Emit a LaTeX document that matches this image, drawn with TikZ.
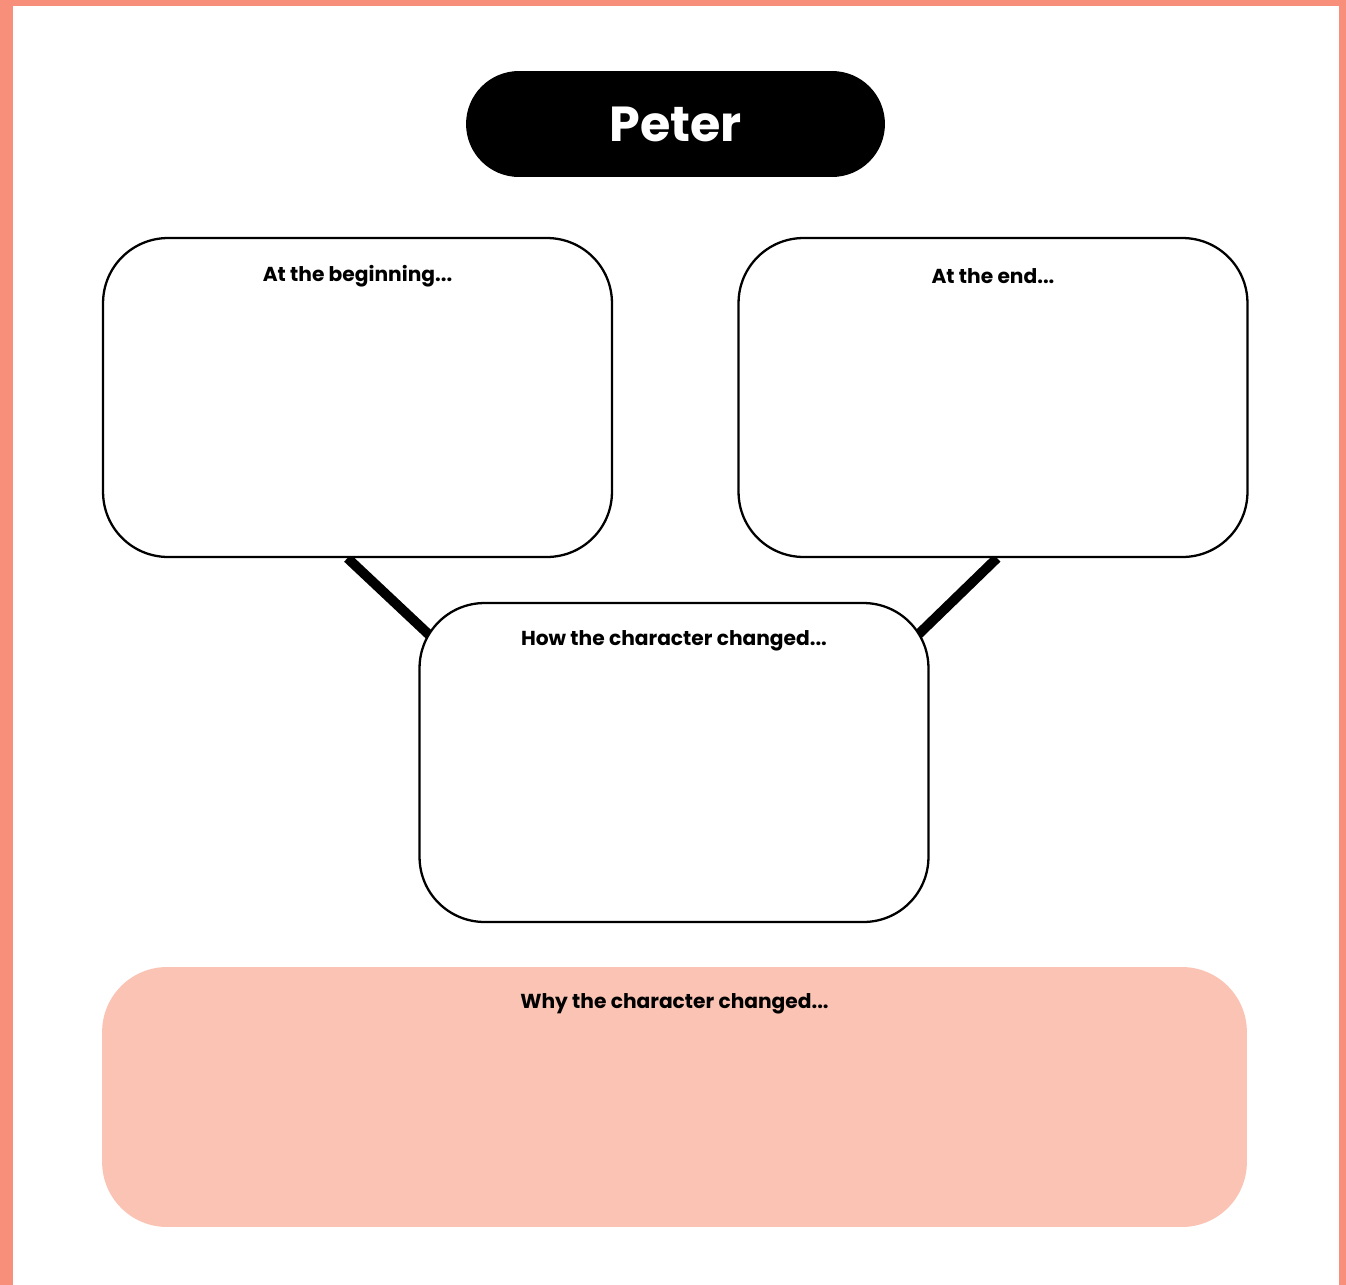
\documentclass[tikz,border=0pt]{standalone}
\usepackage{fontspec}
\setmainfont{Poppins}
\usetikzlibrary{positioning,backgrounds}
\definecolor{salmon}{RGB}{247,143,122}
\definecolor{blush}{RGB}{250,195,180}
\tikzset{
  box/.style={draw=black, line width=1.3pt, fill=white, rounded corners=1.3cm,
    minimum width=10.18cm, minimum height=6.38cm, inner sep=0pt},
  lbl/.style={font=\fontsize{11.5}{13}\selectfont\bfseries, inner sep=0pt},
  link/.style={line width=5.6pt},
}
\begin{document}
\begin{tikzpicture}[x=0.02cm,y=-0.02cm]
      \useasboundingbox (0,0) rectangle (1346,1285);
      % title
      \node[fill=black, rounded corners=1.06cm, minimum width=8.38cm,
        minimum height=2.12cm, text=white, font=\fontsize{28}{30}\selectfont\bfseries]
        (title) at (675.5,124) {\raisebox{-0.06cm}{Peter}};
      % boxes
      \node[box] (beg) at (357.5,397.5) {};
      \node[box] (end) at (993,397.5) {};
      \node[box] (chg) at (674,762.5) {};
      \node[fill=blush, rounded corners=1.3cm, minimum width=22.9cm,
        minimum height=5.2cm] (why) at (674.5,1097) {};
      \node[lbl] (begtxt) at ([yshift=-0.78cm]beg.north) {At the beginning...};
      \node[lbl] (endtxt) at ([yshift=-0.78cm]end.north) {At the end...};
      \node[lbl] (chgtxt) at ([yshift=-0.78cm]chg.north) {How the character changed...};
      \node[lbl] (whytxt) at ([yshift=-0.74cm]why.north) {Why the character changed...};
      \begin{scope}[on background layer]
        % page frame
        \fill[salmon] (0,0) rectangle (1346,1285);
        \fill[white] (13,6) rectangle (1339,1285);
        \draw[link] ([xshift=-0.2cm]beg.south) -- ++(100,94);
        \draw[link] ([xshift=0.08cm]end.south) -- ++(-100,97);
      \end{scope}
    \end{tikzpicture}
\end{document}
